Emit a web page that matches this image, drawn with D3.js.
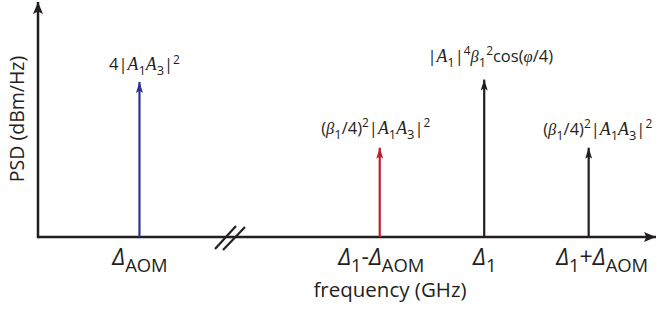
<!DOCTYPE html>
<html><head><meta charset="utf-8">
<script src="https://cdn.jsdelivr.net/npm/d3@7"></script>
<style>body{margin:0;background:#fff}svg{display:block}</style>
</head><body>
<svg id="c" width="657" height="314"></svg>
<script>
// ---- data ----
const categories = ["ΔAOM", "Δ1-ΔAOM", "Δ1", "Δ1+ΔAOM"];
const freqPos = [1, 3.3, 4.3, 5.3];          // compressed axis (break between 1st and 2nd)
const psdValues = [66, 38, 67, 38];          // arbitrary relative level
const tickLabels = [
  [{t:"Δ",k:"d"},{t:"AOM",k:"sub"}],
  [{t:"Δ",k:"d"},{t:"1",k:"sub"},{t:"-",k:"n"},{t:"Δ",k:"d"},{t:"AOM",k:"sub"}],
  [{t:"Δ",k:"d"},{t:"1",k:"sub"}],
  [{t:"Δ",k:"d"},{t:"1",k:"sub"},{t:"+",k:"n"},{t:"Δ",k:"d"},{t:"AOM",k:"sub"}]
];
const peakLabels = [
  [{t:"4|"},{t:"A",k:"i"},{t:"1",k:"sub"},{t:"A",k:"i"},{t:"3",k:"sub"},{t:"|"},{t:"2",k:"sup"}],
  [{t:"("},{t:"β",k:"g"},{t:"1",k:"sub"},{t:"/4)"},{t:"2",k:"sup"},{t:"|"},{t:"A",k:"i"},{t:"1",k:"sub"},{t:"A",k:"i"},{t:"3",k:"sub"},{t:"|"},{t:"2",k:"sup"}],
  [{t:"|"},{t:"A",k:"i"},{t:"1",k:"sub"},{t:"|"},{t:"4",k:"sup"},{t:"β",k:"g"},{t:"1",k:"sub"},{t:"2",k:"sup"},{t:"cos("},{t:"φ",k:"g"},{t:"/4)"}],
  [{t:"("},{t:"β",k:"g"},{t:"1",k:"sub"},{t:"/4)"},{t:"2",k:"sup"},{t:"|"},{t:"A",k:"i"},{t:"1",k:"sub"},{t:"A",k:"i"},{t:"3",k:"sub"},{t:"|"},{t:"2",k:"sup"}]
];
const xLabel = "frequency (GHz)";
const yLabel = "PSD (dBm/Hz)";

// ---- style / layout ----
const stemColors = ["#2e3192", "#be1e2d", "#231f20", "#231f20"];
const labelNudge = [[5,-12],[-4,-14],[6,-18],[9,-13]];
const tickNudge = [0, 1, 0, 13];
const ink = "#231f20";
const sans = "'Open Sans', 'Noto Sans', sans-serif";
const serif = "'Liberation Serif', 'DejaVu Serif', serif";
const x0 = 38, y0 = 237;

const svg = d3.select("#c");
const x = d3.scaleLinear().domain([0.0287, 5.868]).range([x0, 648]);
const y = d3.scaleLinear().domain([0, 100]).range([y0, 2]);

const defs = svg.append("defs");
function marker(id, w, l, color){
  defs.append("marker").attr("id", id).attr("markerUnits","userSpaceOnUse")
    .attr("viewBox", `0 ${-w/2} ${l} ${w}`).attr("refX", l).attr("refY", 0)
    .attr("markerWidth", l).attr("markerHeight", w).attr("orient","auto")
    .append("path").attr("d", `M0,${-w/2}L${l},0L0,${w/2}L${l*0.2},0Z`).attr("fill", color);
}
marker("axArrow", 10, 12, ink);
stemColors.forEach((c,i)=>marker("st"+i, 7, 11, c));

// axes
svg.append("line").attr("x1", x0).attr("y1", y0).attr("x2", 656).attr("y2", y0)
  .attr("stroke", ink).attr("stroke-width", 2.5).attr("marker-end","url(#axArrow)");
svg.append("line").attr("x1", x0).attr("y1", y0+1.2).attr("x2", x0).attr("y2", 2)
  .attr("stroke", ink).attr("stroke-width", 2.5).attr("marker-end","url(#axArrow)");

// axis break marks
const br = svg.append("g").attr("stroke", ink).attr("stroke-width", 2.2);
br.append("line").attr("x1",215).attr("y1",249).attr("x2",236).attr("y2",226);
br.append("line").attr("x1",223).attr("y1",250).attr("x2",245).attr("y2",227);

// stems
svg.append("g").selectAll("line").data(freqPos).join("line")
  .attr("x1", d=>x(d)).attr("x2", d=>x(d))
  .attr("y1", y(0)).attr("y2", (d,i)=>y(psdValues[i]))
  .attr("stroke", (d,i)=>stemColors[i]).attr("stroke-width", 2.2)
  .attr("marker-end", (d,i)=>`url(#st${i})`);

// rich text helper
function rich(g, segs, base, subScale){
  const txt = g.append("text").attr("text-anchor","middle").attr("fill", ink)
    .style("font-family", sans).style("font-size", base+"px");
  let shift = 0;
  segs.forEach(s=>{
    const k = s.k || "n";
    const ts = txt.append("tspan").text(s.t);
    let target = 0, fs = base;
    if (k==="sub"){ target = base*0.32; fs = base*subScale; }
    if (k==="sup"){ target = -base*0.38; fs = base*0.72; }
    if (k==="i"){ ts.style("font-family", serif).style("font-style","italic"); fs = base*1.08; }
    if (k==="g"){ ts.style("font-family", serif).style("font-style","italic"); }
    if (k==="d"){ ts.style("font-style","italic"); }
    ts.style("font-size", fs+"px").attr("dy", target - shift);
    shift = target;
  });
  return txt;
}

// tick labels
const xa = svg.append("g").attr("transform", `translate(0,${y0})`)
  .call(d3.axisBottom(x).tickValues(freqPos).tickSize(0).tickFormat(""));
xa.select(".domain").remove();
xa.selectAll(".tick").each(function(d,i){
  const t = rich(d3.select(this), tickLabels[i], 23, 0.8);
  t.attr("y", 28).attr("x", tickNudge[i]);
});

// peak labels
svg.append("g").selectAll("g").data(freqPos).join("g")
  .attr("transform", (d,i)=>`translate(${x(d)+labelNudge[i][0]},${y(psdValues[i])+labelNudge[i][1]})`)
  .each(function(d,i){ rich(d3.select(this), peakLabels[i], 16.5, 0.78); });

// axis titles
svg.append("text").attr("x", 390).attr("y", 297).attr("text-anchor","middle")
  .attr("fill", ink).style("font-family", sans).style("font-size","20.5px").text(xLabel);
svg.append("text").attr("transform","translate(24,119) rotate(-90)").attr("text-anchor","middle")
  .attr("fill", ink).style("font-family", sans).style("font-size","19.5px").text(yLabel);
</script>
</body></html>
